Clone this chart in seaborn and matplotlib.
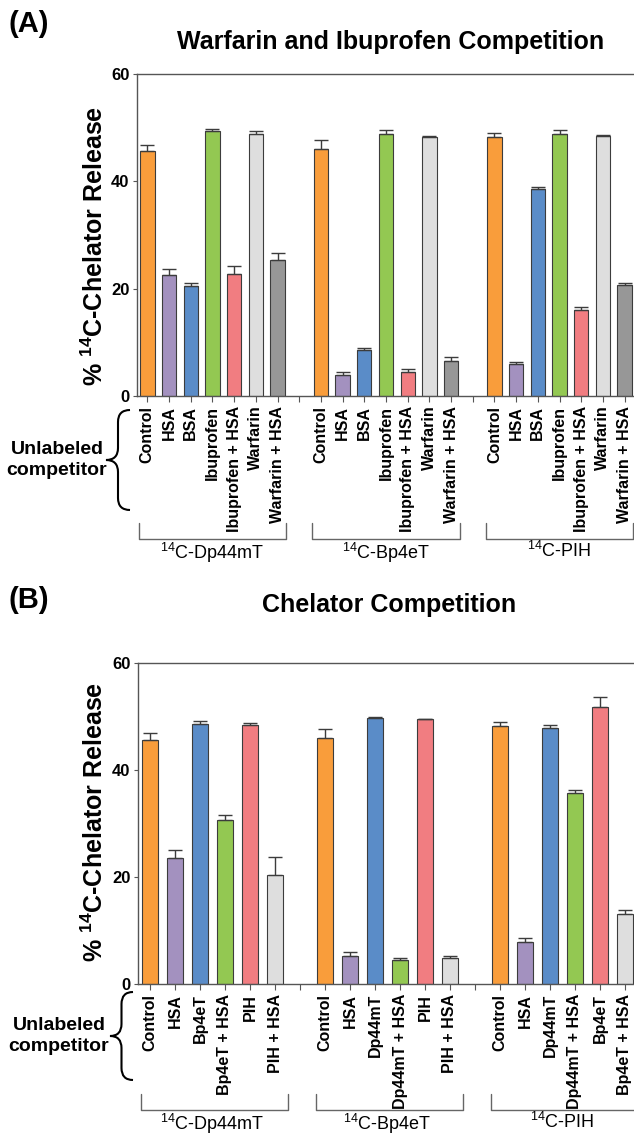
import numpy as np
import pandas as pd
import matplotlib
matplotlib.use("Agg")
import matplotlib.pyplot as plt
import matplotlib.transforms as mtransforms
from matplotlib.path import Path
from matplotlib.patches import PathPatch
import seaborn as sns

# ---- Panel A: warfarin / ibuprofen competition ----
a_labels = ["Control", "HSA", "BSA", "Ibuprofen", "Ibuprofen + HSA", "Warfarin", "Warfarin + HSA"]
a_groups = ["Dp44mT", "Bp4eT", "PIH"]
a_dp44mt = [45.7, 22.5, 20.5, 49.3, 22.8, 48.8, 25.4]
a_dp44mt_err = [1.0, 1.1, 0.6, 0.5, 1.5, 0.5, 1.3]
a_bp4et = [46.0, 4.0, 8.65, 48.9, 4.5, 48.2, 6.5]
a_bp4et_err = [1.7, 0.4, 0.35, 0.6, 0.6, 0.3, 0.8]
a_pih = [48.2, 6.0, 38.6, 48.9, 16.0, 48.4, 20.6]
a_pih_err = [0.8, 0.35, 0.3, 0.7, 0.6, 0.15, 0.4]

# ---- Panel B: chelator competition ----
b_groups = ["Dp44mT", "Bp4eT", "PIH"]
b_labels_dp44mt = ["Control", "HSA", "Bp4eT", "Bp4eT + HSA", "PIH", "PIH + HSA"]
b_labels_bp4et = ["Control", "HSA", "Dp44mT", "Dp44mT + HSA", "PIH", "PIH + HSA"]
b_labels_pih = ["Control", "HSA", "Dp44mT", "Dp44mT + HSA", "Bp4eT", "Bp4eT + HSA"]
b_dp44mt = [45.7, 23.6, 48.7, 30.7, 48.5, 20.5]
b_dp44mt_err = [1.2, 1.5, 0.5, 0.9, 0.3, 3.3]
b_bp4et = [46.1, 5.3, 49.8, 4.5, 49.5, 4.9]
b_bp4et_err = [1.6, 0.8, 0.2, 0.5, 0.1, 0.4]
b_pih = [48.2, 8.0, 47.9, 35.7, 51.8, 13.1]
b_pih_err = [0.8, 0.7, 0.5, 0.6, 1.9, 0.7]

colors_a = ["#F99D3B", "#A391BF", "#5A8CC8", "#93C852", "#F17D81", "#DEDEDE", "#979797"]
colors_b = ["#F99D3B", "#A391BF", "#5A8CC8", "#93C852", "#F17D81", "#DEDEDE"]

W, H = 634, 1134
EDGE = "#3c3c3c"
SPINE = "#555555"

sns.set_theme(style="white")
plt.rcParams["font.family"] = ["Liberation Sans", "DejaVu Sans"]
plt.rcParams["mathtext.fontset"] = "custom"
plt.rcParams["mathtext.default"] = "regular"
plt.rcParams["text.color"] = "black"
plt.rcParams["axes.labelcolor"] = "black"
plt.rcParams["xtick.color"] = "black"
plt.rcParams["ytick.color"] = "black"


def build_frame(groups, label_sets, values, errs):
    rows = []
    n = len(label_sets[0])
    for g, (labs, vals, es) in enumerate(zip(label_sets, values, errs)):
        for i, (lab, v, e) in enumerate(zip(labs, vals, es)):
            rows.append({"pos": g * (n + 1) + i, "slot": str(i), "label": lab,
                         "group": groups[g], "value": v, "err": e})
    return pd.DataFrame(rows)


def fx(x):
    return x / W


def fy(y):
    return 1 - y / H


def draw_brace(fig, x_end, x_mid, x_tip, y_top, y_bot):
    y_c = (y_top + y_bot) / 2
    r = 12
    pts = [(x_end, y_top), (x_mid, y_top), (x_mid, y_top + r),
           (x_mid, y_c - r), (x_mid, y_c), (x_tip, y_c),
           (x_mid, y_c), (x_mid, y_c + r),
           (x_mid, y_bot - r), (x_mid, y_bot), (x_end, y_bot)]
    codes = [Path.MOVETO, Path.CURVE3, Path.CURVE3, Path.LINETO, Path.CURVE3, Path.CURVE3,
             Path.CURVE3, Path.CURVE3, Path.LINETO, Path.CURVE3, Path.CURVE3]
    verts = [(fx(x), fy(y)) for x, y in pts]
    fig.patches.append(PathPatch(Path(verts, codes), transform=fig.transFigure,
                                 fill=False, lw=1.5, color="black"))


def draw_panel(fig, rect, df, colors, n_per_group, bracket_left, bracket_right,
               bracket_top, bracket_bot, label_y):
    ax = fig.add_axes(rect)
    palette = {str(i): c for i, c in enumerate(colors)}
    sns.barplot(data=df, x="pos", y="value", hue="slot", palette=palette,
                native_scale=True, dodge=False, width=0.66, errorbar=None,
                edgecolor=EDGE, linewidth=0.8, saturation=1, legend=False, ax=ax)
    ax.errorbar(df["pos"], df["value"], yerr=[np.zeros(len(df)), df["err"]],
                fmt="none", ecolor=EDGE, elinewidth=1.0, capsize=5, capthick=1.0, zorder=1)

    n_slots = df["pos"].max() + 1
    ax.set_xlim(-0.5, n_slots - 0.5)
    ax.set_ylim(0, 60)
    ax.set_yticks([0, 20, 40, 60])
    ax.set_yticklabels(["0", "20", "40", "60"], fontweight="bold", fontsize=12)
    tick_labels = [""] * n_slots
    for p, lab in zip(df["pos"], df["label"]):
        tick_labels[p] = lab
    ax.set_xticks(range(n_slots))
    ax.set_xticklabels(tick_labels, rotation=90, fontweight="bold", fontsize=11.5)
    ax.set_xlabel("")
    ax.set_ylabel("")
    ax.tick_params(axis="both", direction="out", length=4, width=0.8, color=SPINE,
                   labelcolor="black", bottom=True, left=True)
    ax.tick_params(axis="x", pad=3)
    ax.tick_params(axis="y", pad=2, length=3)
    for side in ["top", "left", "bottom"]:
        ax.spines[side].set_color(SPINE)
        ax.spines[side].set_linewidth(1.0)
    ax.spines["right"].set_visible(False)

    # group brackets under the tick labels
    trans = mtransforms.blended_transform_factory(ax.transData, fig.transFigure)
    groups = df["group"].unique()
    for g, name in enumerate(groups):
        start = g * (n_per_group + 1)
        end = start + n_per_group - 1
        x0 = start - bracket_left
        x1 = end + bracket_right
        ax.plot([x0, x0, x1, x1], [fy(bracket_top), fy(bracket_bot), fy(bracket_bot), fy(bracket_top)],
                color="#666666", lw=1.0, transform=trans, clip_on=False)
        ax.text((start + end) / 2, fy(label_y), "$^{14}$C-" + name, transform=trans,
                ha="center", va="top", fontsize=13, color="black")
    return ax


fig = plt.figure(figsize=(W / 100, H / 100), dpi=100)

df_a = build_frame(a_groups, [a_labels] * 3,
                   [a_dp44mt, a_bp4et, a_pih], [a_dp44mt_err, a_bp4et_err, a_pih_err])
df_b = build_frame(b_groups, [b_labels_dp44mt, b_labels_bp4et, b_labels_pih],
                   [b_dp44mt, b_bp4et, b_pih], [b_dp44mt_err, b_bp4et_err, b_pih_err])

rect_a = [fx(136.5), fy(396), (635.5 - 136.5) / W, (396 - 74) / H]
rect_b = [fx(137.5), fy(984.3), (637.5 - 137.5) / W, (984.3 - 663.3) / H]

draw_panel(fig, rect_a, df_a, colors_a, 7, 0.4, 0.4, 523, 539, 541)
draw_panel(fig, rect_b, df_b, colors_b, 6, 0.37, 0.5, 1094, 1110, 1112)

# panel letters and titles
fig.text(fx(8), fy(24), "(A)", fontsize=21, fontweight="bold", ha="left", va="center")
fig.text(fx(391), fy(42), "Warfarin and Ibuprofen Competition", fontsize=18,
         fontweight="bold", ha="center", va="center")
fig.text(fx(8), fy(600), "(B)", fontsize=21, fontweight="bold", ha="left", va="center")
fig.text(fx(389), fy(605), "Chelator Competition", fontsize=18,
         fontweight="bold", ha="center", va="center")

# y axis titles
ylab = "% $^{14}$C-Chelator Release"
fig.text(fx(95), fy(246), ylab, rotation=90, fontsize=18, fontweight="bold",
         ha="center", va="center")
fig.text(fx(95), fy(822), ylab, rotation=90, fontsize=18, fontweight="bold",
         ha="center", va="center")

# "Unlabeled competitor" braces
fig.text(fx(57), fy(460), "Unlabeled\ncompetitor", fontsize=14, fontweight="bold",
         ha="center", va="center", linespacing=1.3)
draw_brace(fig, 130, 118, 106, 410, 510)
fig.text(fx(59), fy(1036), "Unlabeled\ncompetitor", fontsize=14, fontweight="bold",
         ha="center", va="center", linespacing=1.3)
draw_brace(fig, 133, 121.5, 110, 992, 1080)

fig.savefig("out.png", dpi=100)
